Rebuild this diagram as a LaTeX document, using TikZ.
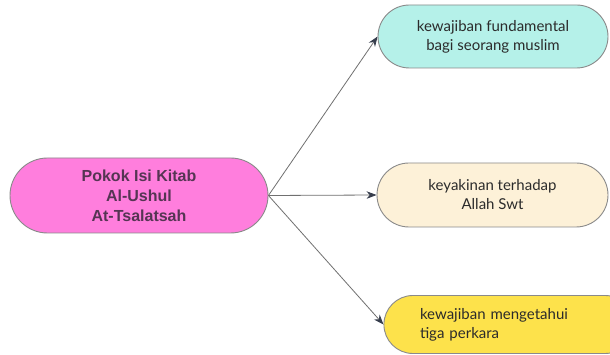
\documentclass[tikz,border=0pt]{standalone}
\usepackage{fontspec}
\setmainfont{Lato}
\newfontfamily\arialfont{Liberation Sans}
\usetikzlibrary{shapes.misc,arrows.meta}
\definecolor{pinkfill}{HTML}{FF7EDD}
\definecolor{pinktext}{HTML}{553553}
\definecolor{aquafill}{HTML}{B5F1E9}
\definecolor{creamfill}{HTML}{FDF1D8}
\definecolor{yellowfill}{HTML}{FDE24B}
\definecolor{edgegray}{HTML}{8A8A8A}
\definecolor{linegray}{HTML}{707070}
\definecolor{tipdark}{HTML}{363D4C}
\definecolor{txtdark}{HTML}{2B2B2B}
\tikzset{
  pill/.style={rounded rectangle, draw=edgegray, line width=0.9pt, inner sep=0pt},
  leaftext/.style={font=\fontsize{15}{19}\selectfont, text=txtdark, align=center},
  conn/.style={draw=linegray, line width=0.8pt, -{Stealth[length=10pt,width=7.5pt,color=tipdark]}},
}
\begin{document}
\begin{tikzpicture}[x=1pt,y=-1pt]
\useasboundingbox (0,0) rectangle (610,355);
\clip (0,0) rectangle (610,355);
\fill[white] (0,0) rectangle (610,355);
\node[pill, fill=pinkfill, minimum width=258pt, minimum height=75pt,
      font=\arialfont\bfseries\fontsize{16}{20}\selectfont, text=pinktext, align=center]
  (root) at (139,195.5) {Pokok Isi Kitab\\Al-Ushul\\At-Tsalatsah};
\node[pill, fill=aquafill, minimum width=230pt, minimum height=63pt, leaftext]
  (a) at (493,36.5) {kewajiban fundamental\\bagi seorang muslim};
\node[pill, fill=creamfill, minimum width=231pt, minimum height=64pt, leaftext]
  (b) at (492.5,195) {keyakinan terhadap\\Allah Swt};
\node[pill, fill=yellowfill, minimum width=240pt, minimum height=58pt, leaftext,
      align=left, text width=178pt, inner xsep=31pt]
  (c) at (509,324.5) {kewajiban mengetahui\\tiga perkara};
\draw[conn] (root.east) -- (a.west);
\draw[conn] (root.east) -- (b.west);
\draw[conn] (root.east) -- (c.west);
\end{tikzpicture}
\end{document}
